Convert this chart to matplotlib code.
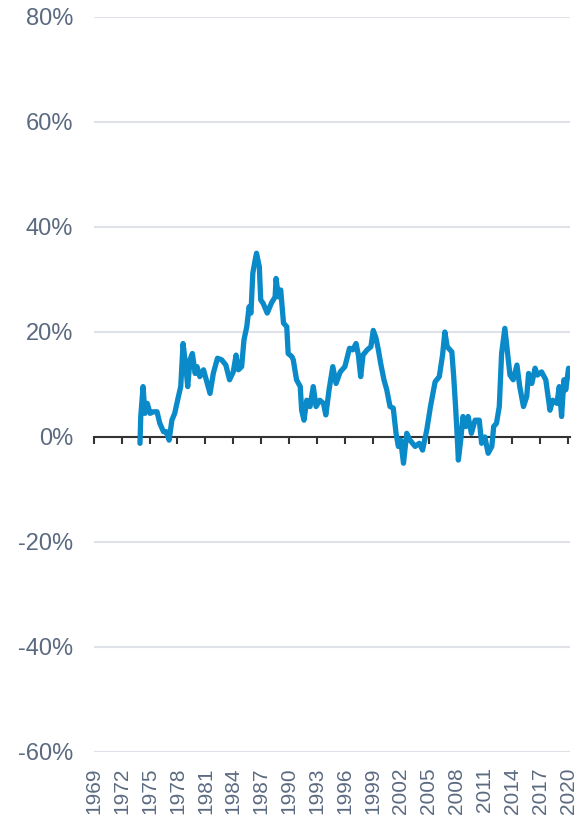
import numpy as np
import matplotlib.pyplot as plt

plt.rcParams['font.family'] = ['Liberation Sans', 'DejaVu Sans']

# значения (год, %)
years = [1973.97, 1974.05, 1974.3, 1974.5, 1974.75, 1975.05, 1975.4, 1975.8, 1976.1, 1976.5,
         1976.8, 1977.1, 1977.4, 1977.7, 1978.1, 1978.35, 1978.6, 1978.9, 1979.1, 1979.35,
         1979.6, 1979.9, 1980.1, 1980.4, 1980.8, 1981.1, 1981.5, 1981.85, 1982.3, 1982.75,
         1983.2, 1983.6, 1984.0, 1984.3, 1984.55, 1984.9, 1985.15, 1985.45, 1985.7, 1985.9,
         1986.1, 1986.35, 1986.5, 1986.8, 1986.95, 1987.2, 1987.65, 1988.1, 1988.5, 1988.6,
         1988.85, 1989.1, 1989.4, 1989.75, 1989.9, 1990.3, 1990.45, 1990.8, 1991.2, 1991.35,
         1991.6, 1991.9, 1992.25, 1992.6, 1992.9, 1993.3, 1993.7, 1993.95, 1994.3, 1994.7,
         1995.05, 1995.5, 1996.0, 1996.5, 1996.85, 1997.2, 1997.45, 1997.7, 1997.95, 1998.4,
         1998.8, 1999.05, 1999.35, 1999.6, 1999.85, 2000.2, 2000.5, 2000.85, 2001.2, 2001.5,
         2001.75, 2002.0, 2002.3, 2002.65, 2003.0, 2003.55, 2004.0, 2004.35, 2004.8, 2005.2,
         2005.7, 2006.15, 2006.5, 2006.75, 2007.0, 2007.5, 2007.7, 2007.9, 2008.1, 2008.2,
         2008.45, 2008.7, 2009.0, 2009.25, 2009.6, 2010.0, 2010.45, 2010.7, 2011.05, 2011.4,
         2011.8, 2012.0, 2012.3, 2012.6, 2012.85, 2013.2, 2013.5, 2013.75, 2014.1, 2014.5,
         2014.8, 2015.2, 2015.55, 2015.75, 2016.1, 2016.45, 2016.7, 2017.15, 2017.6, 2018.05,
         2018.35, 2018.8, 2019.05, 2019.3, 2019.55, 2019.75, 2020.05]
values = [-1.2, 3.9, 9.6, 4.5, 6.4, 4.5, 4.8, 4.8, 2.6, 1.0,
          1.0, -0.6, 3.2, 4.5, 7.7, 9.6, 17.8, 13.4, 9.6, 14.7,
          15.9, 12.1, 13.4, 11.5, 12.8, 10.9, 8.3, 12.1, 15.0, 14.7,
          13.7, 10.9, 12.4, 15.6, 12.8, 13.4, 18.5, 21.0, 24.8, 23.6,
          31.2, 33.7, 35.0, 32.4, 26.1, 25.5, 23.6, 25.5, 26.7, 30.2,
          26.7, 28.0, 21.7, 21.0, 15.9, 15.3, 14.7, 10.9, 9.6, 5.1,
          3.2, 7.0, 5.8, 9.6, 5.8, 7.0, 6.4, 4.2, 9.0, 13.4,
          10.2, 12.4, 13.4, 16.9, 16.6, 17.8, 15.6, 11.5, 15.6, 16.6,
          17.2, 20.3, 18.8, 16.6, 14.0, 10.9, 9.0, 5.8, 5.5, 0.7,
          -1.8, -0.6, -5.0, 0.7, -0.6, -1.8, -1.2, -2.5, 1.3, 5.8,
          10.5, 11.5, 15.6, 20.0, 17.2, 16.2, 11.5, 5.8, -0.6, -4.4,
          -0.6, 3.9, 2.0, 3.9, 0.7, 3.2, 3.2, -1.2, 0.0, -3.1,
          -1.8, 2.0, 2.6, 5.8, 15.9, 20.7, 15.9, 11.8, 10.9, 13.7,
          9.6, 5.8, 7.7, 12.1, 10.2, 13.1, 11.8, 12.4, 10.9, 5.1,
          7.0, 6.4, 9.6, 3.9, 10.9, 9.0, 13.1]

tick_years = list(range(1969, 2021, 3))
y_ticks = [-60, -40, -20, 0, 20, 40, 60, 80]

text_color = '#5b6a80'
grid_color = '#dfe2e8'

fig = plt.figure(figsize=(5.81, 8.25), dpi=100)
ax = fig.add_axes([0.1614, 0.0885, 0.8196, 0.8909])

ax.plot(years, values, color='#0a8ac8', linewidth=3.8,
        solid_capstyle='round', solid_joinstyle='round', zorder=3)

ax.set_xlim(1969, 2020.2)
ax.set_ylim(-60, 80)
ax.set_yticks(y_ticks)
ax.set_yticklabels([f'{v}%' for v in y_ticks])
ax.yaxis.grid(True, color=grid_color, linewidth=1.5)
ax.set_axisbelow(True)
ax.tick_params(axis='y', length=0, pad=15, labelsize=17, labelcolor=text_color)

for s in ['top', 'right', 'left']:
    ax.spines[s].set_visible(False)
ax.spines['bottom'].set_position(('data', 0))
ax.spines['bottom'].set_color('#333333')
ax.spines['bottom'].set_linewidth(1.5)
ax.set_xticks(tick_years)
ax.tick_params(axis='x', length=5, width=1.5, color='#333333', labelbottom=False)

# подписи лет внизу графика
sec = ax.secondary_xaxis('bottom')
sec.set_xticks(tick_years)
sec.set_xticklabels([str(y) for y in tick_years], rotation=90)
sec.tick_params(length=0, pad=11, labelsize=15, labelcolor=text_color)
sec.spines['bottom'].set_visible(False)

fig.savefig('out.png', dpi=100)
